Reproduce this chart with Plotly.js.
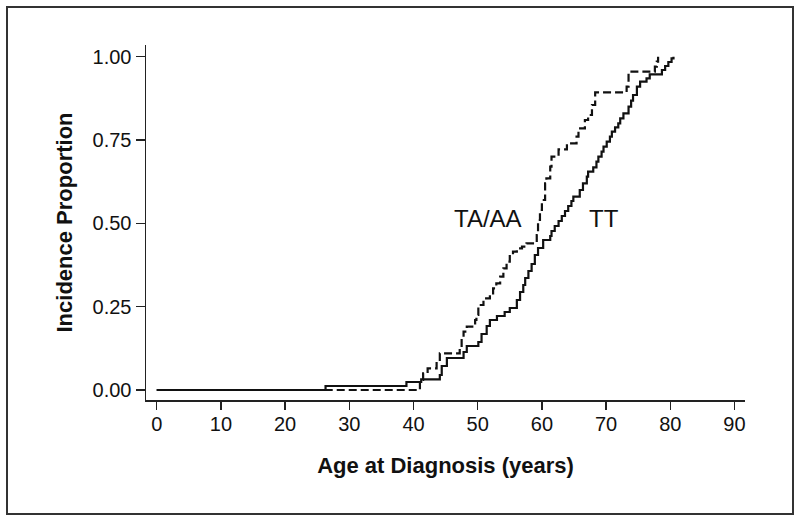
<!DOCTYPE html>
<html>
<head>
<meta charset="utf-8">
<script src="https://cdn.plot.ly/plotly-3.0.1.min.js"></script>
<style>
html,body{margin:0;padding:0;background:#fff;}
#chart{width:800px;height:521px;}
</style>
</head>
<body>
<div id="chart"></div>
<script>
// TT genotype (solid): step times (age, years) and cumulative incidence after each step
const ttAge = [0, 26.3, 38.9, 41.2, 44.1, 44.4, 45.2, 47.8, 48.3, 50.1, 50.6, 51.4, 51.9, 53.0, 54.2, 55.0,
  56.1, 56.6, 57.1, 57.4, 57.9, 58.4, 58.9, 59.4, 60.2, 61.3, 61.5, 62.0, 62.6, 63.1, 63.6, 64.1, 64.6,
  64.9, 65.9, 66.4, 67.0, 67.2, 68.0, 68.5, 68.8, 69.3, 69.6, 70.1, 70.6, 70.9, 71.4, 71.9, 72.2, 72.7,
  73.5, 73.9, 74.2, 74.8, 75.3, 76.3, 76.8, 78.7, 79.2, 79.7, 80.2, 80.5];
const ttInc = [0, 0.012, 0.024, 0.032, 0.045, 0.072, 0.096, 0.114, 0.132, 0.144, 0.168, 0.192, 0.21, 0.222, 0.234, 0.246,
  0.27, 0.294, 0.315, 0.336, 0.357, 0.378, 0.405, 0.426, 0.45, 0.462, 0.477, 0.492, 0.507, 0.522, 0.537, 0.552, 0.567,
  0.58, 0.60, 0.62, 0.64, 0.655, 0.668, 0.685, 0.70, 0.715, 0.73, 0.745, 0.76, 0.775, 0.788, 0.80, 0.815, 0.83,
  0.85, 0.868, 0.885, 0.91, 0.925, 0.935, 0.947, 0.96, 0.972, 0.984, 0.995, 1.0];

// TA/AA genotype (dashed)
const taAge = [0, 41.0, 41.5, 42.2, 43.6, 44.1, 47.2, 47.5, 47.8, 48.3, 49.6, 49.8, 50.1, 50.9, 51.9, 52.4, 52.9,
  53.5, 54.0, 54.5, 55.0, 55.5, 56.1, 56.9, 57.6, 59.2, 59.4, 59.7, 60.0, 60.5, 60.7, 61.3, 61.5, 62.6,
  63.9, 65.4, 65.7, 66.7, 67.2, 67.8, 68.3, 73.2, 73.5, 77.6, 77.9, 78.1];
const taInc = [0, 0.03, 0.05, 0.065, 0.085, 0.11, 0.125, 0.15, 0.175, 0.19, 0.21, 0.225, 0.255, 0.275, 0.285, 0.305, 0.32,
  0.34, 0.365, 0.385, 0.405, 0.415, 0.425, 0.43, 0.44, 0.465, 0.51, 0.54, 0.57, 0.62, 0.635, 0.67, 0.70, 0.722,
  0.74, 0.76, 0.785, 0.81, 0.825, 0.855, 0.893, 0.91, 0.955, 0.97, 0.985, 1.0];

const xTicks = [0, 10, 20, 30, 40, 50, 60, 70, 80, 90];
const yTicks = [0, 0.25, 0.5, 0.75, 1.0];
const yTickText = ['0.00', '0.25', '0.50', '0.75', '1.00'];

const curveLabels = ['TA/AA', 'TT'];
const labelAge = [51.6, 69.6];
const labelInc = [0.516, 0.516];

const font = 'Liberation Sans, Arial, Helvetica, sans-serif';

const traces = [
  {x: ttAge, y: ttInc, type: 'scatter', mode: 'lines', line: {shape: 'hv', color: '#111', width: 2.2}, name: 'TT', hoverinfo: 'skip'},
  {x: taAge, y: taInc, type: 'scatter', mode: 'lines', line: {shape: 'hv', color: '#111', width: 2.2, dash: '8px,4px'}, name: 'TA/AA', hoverinfo: 'skip'}
];

const layout = {
  width: 800, height: 521,
  margin: {l: 146, r: 55, t: 45, b: 121},
  paper_bgcolor: '#fff', plot_bgcolor: '#fff',
  showlegend: false,
  font: {family: font, color: '#111'},
  xaxis: {
    range: [-1.67, 91.64], tickvals: xTicks, ticks: 'outside', ticklen: 8, tickwidth: 1.5, tickcolor: '#222',
    ticklabelstandoff: -3,
    showline: true, linecolor: '#222', linewidth: 1.5, showgrid: false, zeroline: false,
    tickfont: {size: 20, family: font, color: '#111'},
    title: {text: '<b>Age at Diagnosis (years)</b>', font: {size: 22, family: font, color: '#111'}, standoff: 24}
  },
  yaxis: {
    range: [-0.03, 1.035], tickvals: yTicks, ticktext: yTickText, ticks: 'outside', ticklen: 9, tickwidth: 1.5, tickcolor: '#222',
    showline: true, linecolor: '#222', linewidth: 1.5, showgrid: false, zeroline: false,
    tickfont: {size: 20, family: font, color: '#111'},
    title: {text: '<b>Incidence Proportion</b>', font: {size: 22, family: font, color: '#111'}, standoff: 14}
  },
  annotations: curveLabels.map((t, i) => ({
    x: labelAge[i], y: labelInc[i], xref: 'x', yref: 'y', text: t, showarrow: false,
    font: {size: 24, family: font, color: '#111'}
  })),
  shapes: [{
    type: 'rect', xref: 'paper', yref: 'paper',
    x0: (7 - 146) / 599, x1: (793 - 146) / 599, y0: (400 - 514) / 355, y1: (400 - 7) / 355,
    line: {color: '#333', width: 2}
  }]
};

Plotly.newPlot('chart', traces, layout, {staticPlot: true, displayModeBar: false});
</script>
</body>
</html>
